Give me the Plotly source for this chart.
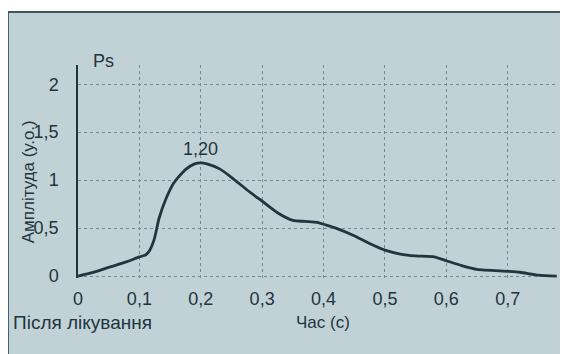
import plotly.graph_objects as go

# data
time_s = [0, 0.02, 0.05, 0.08, 0.1, 0.11, 0.116, 0.124, 0.132, 0.143, 0.156, 0.175,
          0.19, 0.2, 0.21, 0.23, 0.25, 0.275, 0.3, 0.325, 0.35, 0.37, 0.39, 0.4,
          0.42, 0.45, 0.475, 0.5, 0.525, 0.55, 0.58, 0.6, 0.625, 0.65, 0.7, 0.72,
          0.75, 0.78]
amplitude = [0, 0.03, 0.09, 0.15, 0.2, 0.22, 0.26, 0.38, 0.6, 0.8, 0.97, 1.11,
             1.17, 1.18, 1.17, 1.12, 1.03, 0.9, 0.78, 0.66, 0.58, 0.57, 0.56, 0.54,
             0.5, 0.42, 0.34, 0.27, 0.23, 0.21, 0.2, 0.16, 0.11, 0.07, 0.05, 0.04,
             0.01, 0.0]
x_ticks = [0, 0.1, 0.2, 0.3, 0.4, 0.5, 0.6, 0.7]
x_tick_text = ["0", "0,1", "0,2", "0,3", "0,4", "0,5", "0,6", "0,7"]
y_ticks = [0, 0.5, 1, 1.5, 2]
y_tick_text = ["0", "0,5", "1", "1,5", "2"]
peak_x, peak_label = 0.2, "1,20"

BG = "#c1d2d7"
INK = "#22343e"
GRID = "#6f8c98"
FONT = "Liberation Sans, Arial, sans-serif"

fig = go.Figure()
fig.add_trace(go.Scatter(x=time_s, y=amplitude, mode="lines",
                         line=dict(color=INK, width=2.8, shape="spline", smoothing=0.6),
                         hoverinfo="skip", showlegend=False))

fig.add_annotation(x=peak_x, y=max(amplitude), text=peak_label, showarrow=False,
                   yanchor="middle", yshift=14, font=dict(size=18, color=INK, family=FONT))

fig.update_layout(
    width=560, height=346,
    margin=dict(l=70, r=10, t=57, b=76),
    paper_bgcolor=BG, plot_bgcolor=BG,
    separators=", ",
    font=dict(family=FONT, color=INK, size=17),
    xaxis=dict(range=[0, 0.782], tickmode="array", tickvals=x_ticks, ticktext=x_tick_text,
               showgrid=True, gridcolor=GRID, griddash="dot", gridwidth=1,
               zeroline=False, showline=False, ticks="", ticklabelstandoff=8,
               tickfont=dict(size=18, color=INK)),
    yaxis=dict(range=[-0.02, 2.2], tickmode="array", tickvals=y_ticks, ticktext=y_tick_text,
               showgrid=True, gridcolor=GRID, griddash="dot", gridwidth=1,
               zeroline=False, showline=True, linecolor=INK, linewidth=1.5,
               ticks="", ticklabelstandoff=14,
               tickfont=dict(size=18, color=INK)),
)

fig.update_layout(shapes=[
    dict(type="rect", xref="paper", yref="paper", x0=-0.2, x1=1.05, y0=1.249, y1=1.35,
         fillcolor="white", line=dict(width=0), layer="above"),
    dict(type="line", xref="paper", yref="paper", x0=-0.146, x1=1.05, y0=1.249, y1=1.249,
         line=dict(color="#3e5560", width=2)),
    dict(type="line", xref="paper", yref="paper", x0=-0.146, x1=-0.146, y0=-0.4, y1=1.249,
         line=dict(color="#3e5560", width=2)),
])

fig.add_annotation(xref="paper", yref="paper", x=0.028, y=1.0, text="Ps", showarrow=False,
                   xanchor="left", yanchor="middle", yshift=4,
                   font=dict(size=18, color=INK, family=FONT))
fig.add_annotation(xref="paper", yref="paper", x=-0.104, y=0.45, text="Амплітуда (у.о.)",
                   showarrow=False, textangle=-90, xanchor="center", yanchor="middle",
                   font=dict(size=17, color=INK, family=FONT))
fig.add_annotation(xref="paper", yref="paper", x=0.51, y=-0.208, text="Час (с)",
                   showarrow=False, xanchor="center", yanchor="middle",
                   font=dict(size=17, color=INK, family=FONT))
fig.add_annotation(xref="paper", yref="paper", x=-0.14, y=-0.208, text="Після лікування",
                   showarrow=False, xanchor="left", yanchor="middle",
                   font=dict(size=19, color=INK, family=FONT))

fig.write_html("out.html")
